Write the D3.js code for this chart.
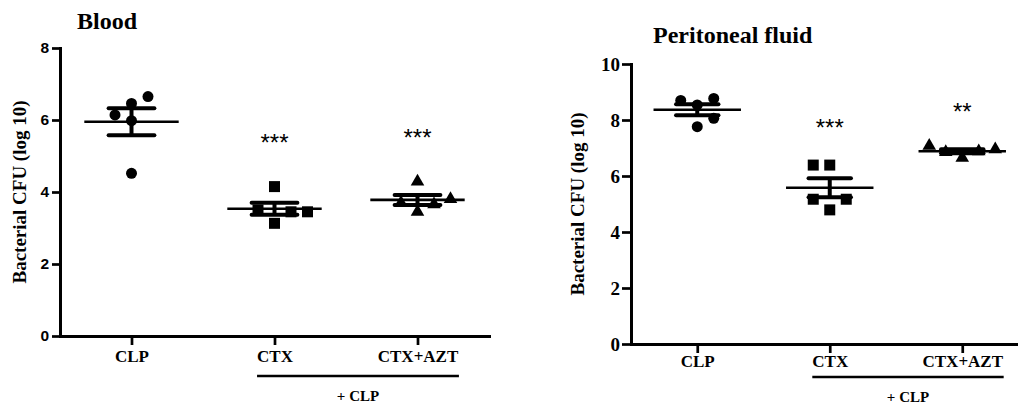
<!DOCTYPE html>
<html>
<head>
<meta charset="utf-8">
<script src="https://cdn.jsdelivr.net/npm/d3@7"></script>
<style>
  html, body { margin: 0; padding: 0; background: #fff; }
  svg { display: block; }
</style>
</head>
<body>
<svg id="chart" width="1018" height="406"></svg>
<script>
// ---- data ----
const groups = ["CLP", "CTX", "CTX+AZT"];
const bracketText = "+ CLP";
const yAxisLabel = "Bacterial CFU (log 10)";

// Blood, log10 CFU per animal
const bloodCLP = [6.46, 5.98, 4.52, 6.14, 6.65];
const bloodCTX = [4.15, 3.13, 3.50, 3.45, 3.45];
const bloodAZT = [4.29, 3.45, 3.70, 3.66, 3.80];
const bloodTicks = [0, 2, 4, 6, 8];
const bloodStars = ["", "***", "***"];
const bloodStarLevel = [null, 5.53, 5.65];

// Peritoneal fluid, log10 CFU per animal
const fluidCLP = [8.54, 7.76, 8.70, 8.06, 8.77];
const fluidCTX = [6.39, 4.79, 6.39, 5.17, 5.17];
const fluidAZT = [6.65, 6.85, 6.88, 6.95, 7.08];
const fluidTicks = [0, 2, 4, 6, 8, 10];
const fluidStars = ["", "***", "**"];
const fluidStarLevel = [null, 7.91, 8.48];

// ---- drawing ----
const svg = d3.select("#chart");
const SERIF = "'Liberation Serif', 'Times New Roman', serif";
const SANS = "'Liberation Sans', Arial, sans-serif";
const shapes = [d3.symbolCircle, d3.symbolSquare, d3.symbolTriangle];
const shapeArea = [95, 121, 80];
const STEP = 16.5;      // horizontal offset between side-by-side points
const CLASH = 13.5;     // vertical distance under which points overlap

// Spread overlapping points sideways: first displaced point goes left,
// the next one right, and so on; wider slots fill right first.
function dodge(pts) {
  const placed = [];
  let displaced = 0;
  const free = (slot, yy) => !placed.some(q => q.slot === slot && Math.abs(q.y - yy) < CLASH);
  pts.forEach(p => {
    let slot = 0;
    if (!free(0, p.y)) {
      const pref = displaced % 2 === 0 ? -1 : 1;
      displaced++;
      let found = false;
      for (const s of [pref, -pref]) {
        if (free(s, p.y)) { slot = s; found = true; break; }
      }
      for (let k = 2; !found; k++) {
        for (const s of [k, -k]) {
          if (free(s, p.y)) { slot = s; found = true; break; }
        }
      }
    }
    placed.push({ ...p, slot });
  });
  return placed;
}

function drawPanel(p) {
  const g = svg.append("g");
  const y = d3.scaleLinear().domain([0, p.yMax]).range([p.bottom, p.top]);
  const x = d3.scalePoint().domain(groups).range([p.left, p.right]).padding(0.5);

  // title
  g.append("text")
    .attr("x", p.titleX).attr("y", p.titleY)
    .attr("font-family", SERIF).attr("font-weight", "bold").attr("font-size", 24)
    .text(p.title);

  // y axis
  const ya = g.append("g")
    .attr("transform", `translate(${p.left},0)`)
    .call(d3.axisLeft(y).tickValues(p.ticks).tickFormat(d3.format("d"))
      .tickSize(p.yTickSize).tickPadding(p.yTickPad).tickSizeOuter(0));
  ya.attr("font-family", p.yTickFont).attr("font-size", p.yTickFontSize).attr("font-weight", "bold");

  // x axis
  const xa = g.append("g")
    .attr("transform", `translate(0,${p.bottom})`)
    .call(d3.axisBottom(x).tickSize(9).tickSizeOuter(0));
  xa.attr("font-family", SERIF).attr("font-size", 17).attr("font-weight", "bold");
  xa.selectAll(".tick text").attr("dy", null).attr("y", p.xLabelOffset);

  [ya, xa].forEach(a => {
    a.selectAll(".domain").attr("stroke", "#000").attr("stroke-width", 3).attr("stroke-linecap", "square");
    a.selectAll(".tick line").attr("stroke", "#000").attr("stroke-width", 2.7);
    a.selectAll("text").attr("fill", "#000");
  });

  // y axis title
  g.append("text")
    .attr("transform", `translate(${p.yLabelX},${(p.top + p.bottom) / 2}) rotate(-90)`)
    .attr("text-anchor", "middle")
    .attr("font-family", SERIF).attr("font-weight", "bold").attr("font-size", 19)
    .text(yAxisLabel);

  // points, mean and SEM
  const colW = x.step();
  p.series.forEach((vals, i) => {
    const cx = x(groups[i]);
    const pts = dodge(vals.map(v => ({ v, y: y(v) })));
    g.append("g").selectAll("path")
      .data(pts)
      .join("path")
      .attr("transform", d => `translate(${cx + d.slot * STEP},${d.y})`)
      .attr("d", d3.symbol(shapes[i], shapeArea[i]))
      .attr("fill", "#000");

    const m = d3.mean(vals);
    const se = d3.deviation(vals) / Math.sqrt(vals.length);
    const eg = g.append("g").attr("stroke", "#000");
    eg.append("line")
      .attr("x1", cx - 0.33 * colW).attr("x2", cx + 0.33 * colW)
      .attr("y1", y(m)).attr("y2", y(m))
      .attr("stroke-width", 2.6);
    eg.append("line")
      .attr("x1", cx).attr("x2", cx)
      .attr("y1", y(m + se)).attr("y2", y(m - se))
      .attr("stroke-width", 4);
    [m + se, m - se].forEach(v => {
      eg.append("line")
        .attr("x1", cx - 0.16 * colW).attr("x2", cx + 0.16 * colW)
        .attr("y1", y(v)).attr("y2", y(v))
        .attr("stroke-width", 4).attr("stroke-linecap", "round");
    });

    if (p.stars[i]) {
      g.append("text")
        .attr("x", cx)
        .attr("y", y(p.starLevel[i]) + 0.57 * 24)
        .attr("text-anchor", "middle")
        .attr("font-family", SANS).attr("font-size", 24)
        .text(p.stars[i]);
    }
  });

  // bracket under the treated groups
  const svgBox = svg.node().getBoundingClientRect();
  const labels = xa.selectAll(".tick text").nodes();
  const r1 = labels[1].getBoundingClientRect();
  const r2 = labels[2].getBoundingClientRect();
  const bx1 = r1.left - svgBox.left, bx2 = r2.right - svgBox.left;
  g.append("line")
    .attr("x1", bx1).attr("x2", bx2)
    .attr("y1", p.bracketY).attr("y2", p.bracketY)
    .attr("stroke", "#000").attr("stroke-width", 2.6);
  g.append("text")
    .attr("x", (bx1 + bx2) / 2).attr("y", p.bracketY + 25)
    .attr("text-anchor", "middle")
    .attr("font-family", SERIF).attr("font-weight", "bold").attr("font-size", 15)
    .text(bracketText);
}

drawPanel({
  title: "Blood", titleX: 77, titleY: 29,
  series: [bloodCLP, bloodCTX, bloodAZT],
  ticks: bloodTicks, yMax: 8,
  stars: bloodStars, starLevel: bloodStarLevel,
  left: 60, right: 489, top: 48, bottom: 336,
  yTickSize: 8, yTickPad: 3, yTickFont: SANS, yTickFontSize: 15.5,
  xLabelOffset: 26, yLabelX: 26, bracketY: 376
});

drawPanel({
  title: "Peritoneal fluid", titleX: 653, titleY: 43,
  series: [fluidCLP, fluidCTX, fluidAZT],
  ticks: fluidTicks, yMax: 10,
  stars: fluidStars, starLevel: fluidStarLevel,
  left: 631, right: 1028.5, top: 64, bottom: 344,
  yTickSize: 9, yTickPad: 2, yTickFont: SERIF, yTickFontSize: 19,
  xLabelOffset: 23, yLabelX: 584, bracketY: 377
});
</script>
</body>
</html>
